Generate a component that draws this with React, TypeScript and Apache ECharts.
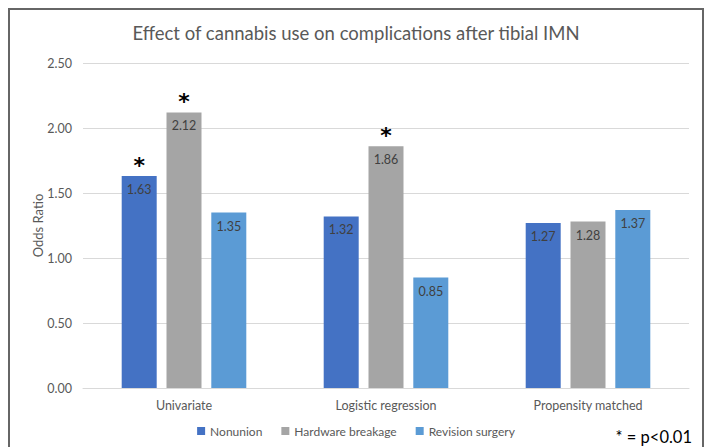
import React, { useEffect, useRef } from "react";
import * as echarts from "echarts";

const categories = ["Univariate", "Logistic regression", "Propensity matched"];
const nonunion = [1.63, 1.32, 1.27];
const hardware = [2.12, 1.86, 1.28];
const revision = [1.35, 0.85, 1.37];
const nonunionSig = [true, false, false];
const hardwareSig = [true, true, false];
const revisionSig = [false, false, false];
const yTicks = [0, 0.5, 1, 1.5, 2, 2.5];

const FONT = "Lato, 'Liberation Sans', sans-serif";

function marks(values: number[], sig: boolean[]) {
  return values
    .map((v, i) => (sig[i] ? { coord: [i, v], value: v } : null))
    .filter((d) => d !== null);
}

function barSeries(name: string, values: number[], sig: boolean[], color: string) {
  return {
    name,
    type: "bar",
    data: values,
    barWidth: 35,
    barGap: "28%",
    itemStyle: { color },
    label: {
      show: true,
      position: "insideTop",
      distance: 7,
      color: "#404040",
      fontSize: 12.5,
      fontFamily: FONT,
      formatter: (p: any) => p.value.toFixed(2),
    },
    markPoint: {
      symbol: "circle",
      symbolSize: 0,
      silent: true,
      label: {
        show: true,
        position: "top",
        distance: 0,
        formatter: "*",
        color: "#000000",
        fontSize: 22,
        fontWeight: "bold",
        fontFamily: "'DejaVu Sans', sans-serif",
      },
      data: marks(values, sig),
    },
  };
}

export default function App() {
  const ref = useRef<HTMLDivElement>(null);
  useEffect(() => {
    if (!ref.current) return;
    const chart = echarts.init(ref.current, null, { renderer: "svg" });
    chart.setOption({
      animation: false,
      title: {
        text: "Effect of cannabis use on complications after tibial IMN",
        left: "center",
        top: 8,
        textStyle: { fontFamily: FONT, fontSize: 18.5, fontWeight: "normal", color: "#595959" },
      },
      grid: { left: 73, right: 13, top: 53, bottom: 59 },
      legend: {
        bottom: 5,
        left: "center",
        itemWidth: 8,
        itemHeight: 8,
        itemGap: 19,
        icon: "rect",
        textStyle: { fontFamily: FONT, fontSize: 12, color: "#595959" },
        data: ["Nonunion", "Hardware breakage", "Revision surgery"],
      },
      xAxis: {
        type: "category",
        data: categories,
        axisLine: { lineStyle: { color: "#D9D9D9", width: 1 } },
        axisTick: { show: false },
        axisLabel: { fontFamily: FONT, fontSize: 12.5, color: "#595959", margin: 11 },
      },
      yAxis: {
        type: "value",
        min: yTicks[0],
        max: yTicks[yTicks.length - 1],
        interval: 0.5,
        name: "Odds Ratio",
        nameLocation: "middle",
        nameGap: 39,
        nameMoveOverlap: false,
        nameTextStyle: { fontFamily: FONT, fontSize: 13, color: "#595959" },
        axisLine: { show: false },
        axisTick: { show: false },
        splitLine: { lineStyle: { color: "#D9D9D9", width: 1 } },
        axisLabel: {
          fontFamily: FONT,
          fontSize: 12.5,
          color: "#595959",
          margin: 11,
          formatter: (v: number) => v.toFixed(2),
        },
      },
      graphic: [
        {
          type: "text",
          right: 10,
          bottom: 2,
          style: {
            text: "* = p<0.01",
            fontFamily: FONT,
            fontSize: 16.5,
            fill: "#000000",
          },
        },
      ],
      series: [
        barSeries("Nonunion", nonunion, nonunionSig, "#4472C4"),
        barSeries("Hardware breakage", hardware, hardwareSig, "#A5A5A5"),
        barSeries("Revision surgery", revision, revisionSig, "#5B9BD5"),
      ],
    });
    return () => chart.dispose();
  }, []);
  return (
    <div
      style={{
        position: "fixed",
        left: 8,
        top: 8,
        boxSizing: "border-box",
        width: 696,
        height: 439,
        overflow: "hidden",
        background: "#ffffff",
        borderTop: "2px solid #666666",
        borderLeft: "2px solid #666666",
        borderRight: "2px solid #666666",
      }}
    >
      <div ref={ref} style={{ width: 692, height: 437 }} />
    </div>
  );
}
